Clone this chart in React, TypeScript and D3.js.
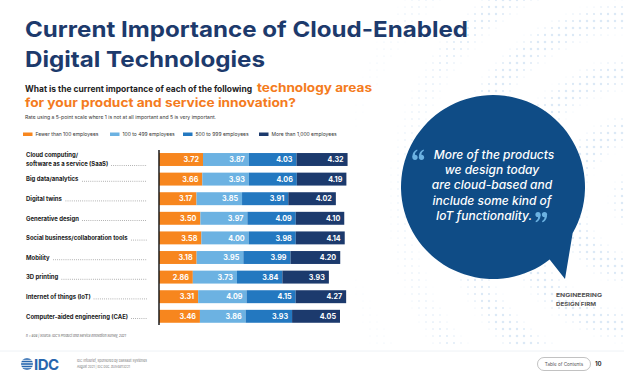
import React, { useLayoutEffect, useRef, useState } from "react";
import * as d3 from "d3";

const categories = [
  "Cloud computing/|software as a service (SaaS)",
  "Big data/analytics",
  "Digital twins",
  "Generative design",
  "Social business/collaboration tools",
  "Mobility",
  "3D printing",
  "Internet of things (IoT)",
  "Computer-aided engineering (CAE)",
];
const seriesNames = [
  "Fewer than 100 employees",
  "100 to 499 employees",
  "500 to 999 employees",
  "More than 1,000 employees",
];
const fewer100 = [3.72, 3.66, 3.17, 3.5, 3.58, 3.18, 2.86, 3.31, 3.46];
const emp100to499 = [3.87, 3.93, 3.85, 3.97, 4.0, 3.95, 3.73, 4.09, 3.86];
const emp500to999 = [4.03, 4.06, 3.91, 4.09, 3.98, 3.99, 3.84, 4.15, 3.93];
const more1000 = [4.32, 4.19, 4.02, 4.1, 4.14, 4.2, 3.93, 4.27, 4.05];
const seriesColors = ["#F7861E", "#6CB2E2", "#2378C0", "#1C3A6D"];
const quoteLines = [
  "More of the products",
  "we design today",
  "are cloud-based and",
  "include some kind of",
  "IoT functionality.",
];

const FONT = "Inter, 'Open Sans', sans-serif";
const NAVY = "#1D3A6C";
const ORANGE = "#F47B20";

function quoteSix(cx: number, cy: number, flip: boolean) {
  const s = flip ? -1 : 1;
  const r = 2.6;
  const p = `M${cx - s * r},${cy} C${cx - s * r},${cy - s * 4.5} ${cx - s * 0.5},${cy - s * 7} ${cx + s * 2.2},${cy - s * 7.8} L${cx + s * 2.4},${cy - s * 6.6} C${cx + s * 0.8},${cy - s * 5.6} ${cx - s * 0.2},${cy - s * 4.2} ${cx},${cy - s * r} Z`;
  return (
    <g>
      <circle cx={cx} cy={cy} r={r} />
      <path d={p} />
    </g>
  );
}

export default function App() {
  const seriesValues = [fewer100, emp100to499, emp500to999, more1000];
  const table = categories.map((c, i) => {
    const o: any = { cat: c };
    seriesNames.forEach((k, j) => (o[k] = seriesValues[j][i]));
    return o;
  });
  const stack = d3.stack<any>().keys(seriesNames)(table);

  const x = d3.scaleLinear().domain([0, 16]).range([159, 159 + 16 * 11.83]);
  const y = d3
    .scaleBand<string>()
    .domain(categories)
    .range([149.7, 326.1])
    .paddingInner(0.34)
    .paddingOuter(0.17);

  const labelRefs = useRef<(SVGTextElement | null)[]>([]);
  const [widths, setWidths] = useState<number[]>([]);
  useLayoutEffect(() => {
    setWidths(labelRefs.current.map((t) => (t ? t.getBBox().width : 0)));
  }, []);

  const cx = 493,
    cy = 187,
    r = 92;

  const bubble = (() => {
    const a1 = (30 * Math.PI) / 180;
    const a2 = (52 * Math.PI) / 180;
    const p1 = [cx + r * Math.cos(a1), cy + r * Math.sin(a1)];
    const p2 = [cx + r * Math.cos(a2), cy + r * Math.sin(a2)];
    return `M${p1[0]},${p1[1]} L565,279 L${p2[0]},${p2[1]} A${r},${r} 0 1 1 ${p1[0]},${p1[1]} Z`;
  })();

  const dots: { x: number; y: number; r: number }[] = [];
  for (let gx = 300; gx < 624; gx += 7) {
    for (let gy = 0; gy < 350; gy += 7) {
      const d = Math.hypot(gx - 640, gy - 200);
      const wave = 0.5 + 0.5 * Math.sin(d / 9);
      const fade = Math.max(0, Math.min(1, (gx - 300) / 200));
      const rr = 1.3 * wave * fade;
      if (rr > 0.35) dots.push({ x: gx, y: gy, r: rr });
    }
  }

  const labelSize = 5.95;

  return (
    <svg
      width={624}
      height={373}
      style={{ position: "absolute", left: 0, top: 0, background: "#fff" }}
      fontFamily={FONT}
    >
      <rect width={624} height={373} fill="#fff" />
      <g fill="#DCE9F6">
        {dots.map((d, i) => (
          <circle key={i} cx={d.x} cy={d.y} r={d.r} />
        ))}
      </g>

      {/* Title */}
      <text x={25} y={37} fontSize={22} fontWeight={700} fill={NAVY} textLength={443} lengthAdjust="spacingAndGlyphs">
        Current Importance of Cloud-Enabled
      </text>
      <text x={25} y={66.5} fontSize={22} fontWeight={700} fill={NAVY} textLength={240} lengthAdjust="spacingAndGlyphs">
        Digital Technologies
      </text>

      {/* Subtitle */}
      <text x={25} y={91.5} fontWeight={700} fontSize={8.6} fill="#222" textLength={227} lengthAdjust="spacingAndGlyphs">
        What is the current importance of each of the following
      </text>
      <text x={257} y={91.5} fontWeight={700} fontSize={12.3} fill={ORANGE} textLength={115} lengthAdjust="spacingAndGlyphs">
        technology areas
      </text>
      <text x={25} y={106.5} fontSize={12.3} fontWeight={700} fill={ORANGE} textLength={271} lengthAdjust="spacingAndGlyphs">
        for your product and service innovation?
      </text>
      <text x={25} y={119} fontSize={4.8} fill="#333" textLength={191} lengthAdjust="spacingAndGlyphs">
        Rate using a 5-point scale where 1 is not at all important and 5 is very important.
      </text>

      {/* Legend */}
      {[23, 110, 183, 259].map((lx, i) => (
        <g key={i}>
          <rect x={lx} y={132.5} width={9.5} height={3.5} fill={seriesColors[i]} />
          <text x={lx + 12.5} y={136.2} fontSize={5} fill="#333">
            {seriesNames[i]}
          </text>
        </g>
      ))}

      {/* Bars */}
      {stack.map((layer, si) => (
        <g key={si}>
          {layer.map((d, i) => (
            <g key={i}>
              <rect
                x={x(d[0])}
                y={y(categories[i])}
                width={x(d[1]) - x(d[0])}
                height={y.bandwidth()}
                fill={seriesColors[si]}
              />
              <text
                x={x(d[1]) - 4}
                y={(y(categories[i]) as number) + y.bandwidth() / 2 + 2.6}
                textAnchor="end"
                fontSize={7.2}
                fontWeight={700}
                fill="#fff"
              >
                {(d[1] - d[0]).toFixed(2)}
              </text>
            </g>
          ))}
        </g>
      ))}
      <line x1={159} x2={159} y1={150} y2={325} stroke="#1a1a1a" strokeWidth={1.5} />

      {/* Category labels */}
      {categories.map((c, i) => {
        const parts = c.split("|");
        const yc = (y(c) as number) + y.bandwidth() / 2;
        const baseY = parts.length > 1 ? yc + 6 : yc + 2.2;
        const lastW = widths[i] || 0;
        return (
          <g key={i}>
            {parts.length > 1 && (
              <text x={26} y={yc - 2.3} fontSize={labelSize} fontWeight={700} fill="#1a1a1a">
                {parts[0]}
              </text>
            )}
            <text
              ref={(el) => {
                labelRefs.current[i] = el;
              }}
              x={26}
              y={baseY}
              fontSize={labelSize}
              fontWeight={700}
              fill="#1a1a1a"
            >
              {parts[parts.length - 1]}
            </text>
            {lastW > 0 && 26 + lastW + 3 < 147 && (
              <line
                x1={26 + lastW + 3}
                x2={147}
                y1={baseY}
                y2={baseY}
                stroke="#666"
                strokeWidth={0.7}
                strokeDasharray="0.7 1.4"
              />
            )}
          </g>
        );
      })}

      <text x={26} y={337} fontSize={3.8} fontStyle="italic" fill="#555" textLength={100} lengthAdjust="spacingAndGlyphs">
        n = 808 | Source: IDC's Product and Service Innovation Survey, 2021
      </text>

      {/* Quote bubble */}
      <path d={bubble} fill="#0F4C86" />
      <g fontStyle="italic" fontSize={12} fill="#fff" textAnchor="middle" fontWeight={500}>
        {quoteLines.map((l, i) => (
          <text key={i} x={i === 0 ? 494 : i === 4 ? 484 : 492} y={159 + i * 15.2}>
            {l}
          </text>
        ))}
      </g>
      <g fill="#6CB2E2">
        {quoteSix(415, 157.3, false)}
        {quoteSix(421.5, 157.3, false)}
        {quoteSix(538, 214.5, true)}
        {quoteSix(544.5, 214.5, true)}
      </g>
      <text x={556} y={297} fontSize={5.3} fontWeight={700} fill="#555" textLength={46} lengthAdjust="spacingAndGlyphs">
        ENGINEERING
      </text>
      <text x={556} y={305.5} fontSize={5.3} fontWeight={700} fill="#555" textLength={40} lengthAdjust="spacingAndGlyphs">
        DESIGN FIRM
      </text>

      {/* Footer */}
      <rect x={0} y={351} width={624} height={22} fill="#fff" />
      <line x1={0} x2={624} y1={351} y2={351} stroke="#EEF2F6" strokeWidth={1} />
      <g>
        <clipPath id="globe">
          <circle cx={27} cy={364} r={6} />
        </clipPath>
        <g clipPath="url(#globe)" fill="#2766AE">
          {[-5, -2.5, 0, 2.5, 5].map((dy, i) => (
            <rect key={i} x={20} y={364 + dy - 0.8} width={14} height={1.6} />
          ))}
        </g>
        <text x={34} y={369.5} fontSize={15} fontWeight={700} fill="#2766AE" letterSpacing={-0.5}>
          IDC
        </text>
      </g>
      <text x={77} y={362} fontSize={3.8} fill="#777" textLength={70} lengthAdjust="spacingAndGlyphs">
        IDC InfoBrief, sponsored by Dassault Systèmes
      </text>
      <text x={77} y={367.5} fontSize={3.8} fill="#777" textLength={53} lengthAdjust="spacingAndGlyphs">
        August 2021 | IDC Doc. #US48113221
      </text>
      <rect x={537.5} y={357.5} width={53} height={13} rx={6.5} fill="#fff" stroke="#999" strokeWidth={0.6} />
      <text x={564} y={365.8} fontSize={4.6} fill="#555" textAnchor="middle">
        Table of Contents
      </text>
      <text x={595} y={366.2} fontSize={6} fontWeight={700} fill="#333">
        10
      </text>
    </svg>
  );
}
